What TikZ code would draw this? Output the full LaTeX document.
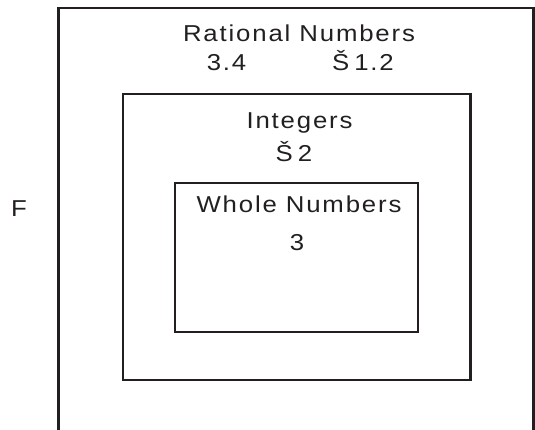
\documentclass[tikz,border=0pt]{standalone}
\usepackage{fontspec}
\newfontfamily\labfont[LetterSpace=8,FakeStretch=1.12]{Liberation Sans}
\definecolor{ink}{HTML}{231F20}
\begin{document}
\begin{tikzpicture}[x=1pt,y=-1pt,
  frame/.style={draw=ink,line width=2.6pt},
  lab/.style={font=\labfont\fontsize{23}{27}\selectfont,text=ink,inner sep=0pt,anchor=base}]
\useasboundingbox (0,0) rectangle (535,429);
% outer set (open at the bottom)
\draw[frame] (58.5,445) -- (58.5,8) -- (533.5,8) -- (533.5,445);
% middle and inner sets
\draw[frame] (123,94) rectangle (470.5,380);
\draw[frame] (175,183) rectangle (418,332);
% labels
\node[lab] (rat) at (299,41) {Rational Numbers};
\node[lab] (r1) at (226.5,70) {3.4};
\node[lab] (r2) at (363,70) {Š\kern5pt1.2};
\node[lab] (int) at (299.5,128) {Integers};
\node[lab] (i1) at (294,161.5) {Š\kern5pt2};
\node[lab] (who) at (299,212) {Whole Numbers};
\node[lab] (w1) at (297,250) {3};
\node[lab,anchor=base east] (f) at (27,216) {F};
\end{tikzpicture}
\end{document}
